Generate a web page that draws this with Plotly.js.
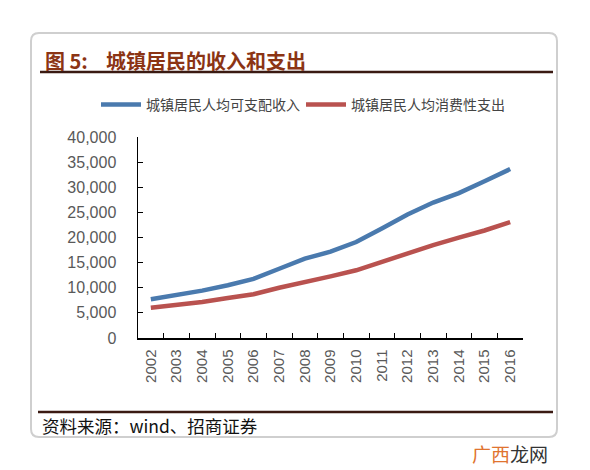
<!DOCTYPE html>
<html><head><meta charset="utf-8">
<script src="https://cdn.plot.ly/plotly-3.0.1.min.js"></script>
<style>html,body{margin:0;padding:0;background:#fff}#c{width:590px;height:470px}</style>
</head><body><div id="c"></div>
<script>
const years = ['2002','2003','2004','2005','2006','2007','2008','2009','2010','2011','2012','2013','2014','2015','2016'];
const income = [7703,8472,9422,10493,11759,13786,15781,17175,19109,21810,24565,26955,28844,31195,33616];
const spending = [6030,6511,7182,7943,8697,9997,11243,12265,13471,15161,16674,18488,19968,21392,23079];
const seriesNames = ['城镇居民人均可支配收入','城镇居民人均消费性支出'];
const yTicks = [0,5000,10000,15000,20000,25000,30000,35000,40000];

const L=138, R=523, T=137, B=338, W=590, H=470;
const px = x => (x-L)/(R-L);
const py = y => (B-y)/(B-T);

const traces = [
  {x: years, y: income, name: seriesNames[0], type:'scatter', mode:'lines',
   line:{color:'#4A7AAE', width:4.5}},
  {x: years, y: spending, name: seriesNames[1], type:'scatter', mode:'lines',
   line:{color:'#B9524F', width:4.5}}
];

const r=8, cx0=31, cx1=557, cy0=33, cy1=437;
const cardPath = `M ${px(cx0+r)} ${py(cy0)} L ${px(cx1-r)} ${py(cy0)} Q ${px(cx1)} ${py(cy0)} ${px(cx1)} ${py(cy0+r)} L ${px(cx1)} ${py(cy1-r)} Q ${px(cx1)} ${py(cy1)} ${px(cx1-r)} ${py(cy1)} L ${px(cx0+r)} ${py(cy1)} Q ${px(cx0)} ${py(cy1)} ${px(cx0)} ${py(cy1-r)} L ${px(cx0)} ${py(cy0+r)} Q ${px(cx0)} ${py(cy0)} ${px(cx0+r)} ${py(cy0)} Z`;

const layout = {
  width: W, height: H,
  margin:{l:L, r:W-R, t:T, b:H-B, pad:0},
  paper_bgcolor:'#fff', plot_bgcolor:'rgba(0,0,0,0)',
  showlegend:true,
  legend:{orientation:'h', x:px(96), y:py(105), xanchor:'left', yanchor:'middle',
    font:{family:'Noto Sans CJK SC', size:14, color:'#444'}, itemwidth:40, entrywidth:150, entrywidthmode:'pixels',
    tracegroupgap:0, bgcolor:'rgba(0,0,0,0)'},
  xaxis:{type:'category', range:[-0.5,14.5], showline:true, linecolor:'#000', linewidth:1.5,
    ticks:'inside', ticklen:5, tickcolor:'#000', tickson:'boundaries', showgrid:false, zeroline:false,
    tickangle:-90, tickfont:{family:'Liberation Sans, Arial', size:15, color:'#595959'}, ticklabelstandoff:4},
  yaxis:{range:[0,40000], tickvals:yTicks, tickformat:',d', showline:true, linecolor:'#000', linewidth:1.5,
    ticks:'inside', ticklen:5, tickcolor:'#000', showgrid:false, zeroline:false,
    tickfont:{family:'Liberation Sans, Arial', size:16, color:'#595959'}, ticklabelstandoff:17},
  shapes:[
    {type:'path', xref:'paper', yref:'paper', path:cardPath, line:{color:'#cfcfcf', width:2}, layer:'below'},
    {type:'line', xref:'paper', yref:'paper', x0:px(40), x1:px(553), y0:py(72), y1:py(72), line:{color:'#3a1a12', width:2.5}},
    {type:'line', xref:'paper', yref:'paper', x0:px(38), x1:px(553), y0:py(412), y1:py(412), line:{color:'#3a1a12', width:2.5}}
  ],
  annotations:[
    {xref:'paper', yref:'paper', x:px(43), y:py(60), xanchor:'left', yanchor:'middle', showarrow:false,
     text:'<b>图 5:    城镇居民的收入和支出</b>', font:{family:'Noto Sans CJK SC', size:20, color:'#8B3414'}},
    {xref:'paper', yref:'paper', x:px(40), y:py(425), xanchor:'left', yanchor:'middle', showarrow:false,
     text:'资料来源：wind、招商证券', font:{family:'Noto Sans CJK SC', size:17.5, color:'#111'}},
    {xref:'paper', yref:'paper', x:px(470), y:py(453), xanchor:'left', yanchor:'middle', showarrow:false,
     text:'<span style="color:#E0742F">广西</span><span style="color:#333">龙网</span>', font:{family:'Noto Sans CJK SC', size:19}}
  ]
};
Plotly.newPlot('c', traces, layout, {staticPlot:true, displayModeBar:false});
</script></body></html>
